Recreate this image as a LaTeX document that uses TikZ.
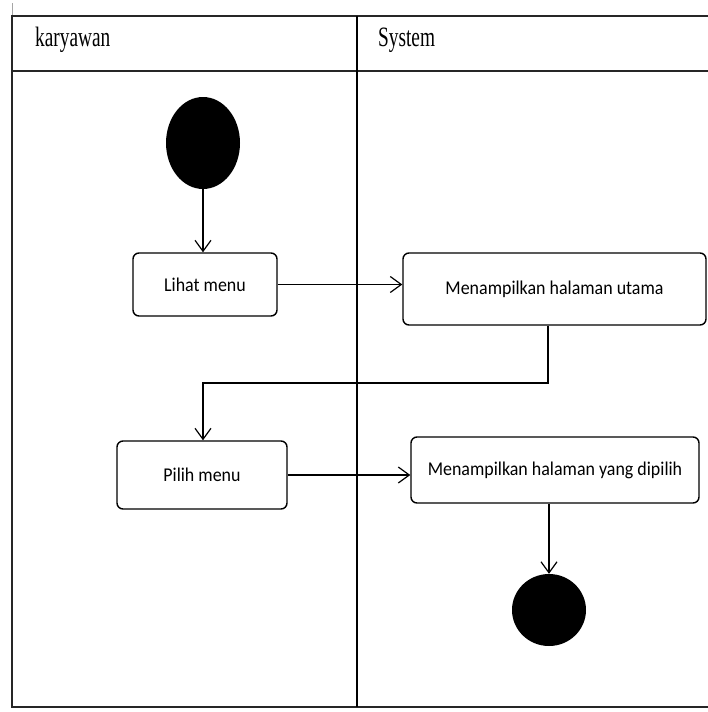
\documentclass[tikz,border=0pt]{standalone}
\usepackage{fontspec}
\usetikzlibrary{arrows.meta,shapes.geometric}
\newfontfamily\lanefont{Liberation Serif}[FakeStretch=0.69]
\newfontfamily\actfont{Carlito}[FakeStretch=0.92]
\begin{document}
\begin{tikzpicture}[x=1pt,y=-1pt,
  lane/.style={line width=1.8pt,draw=black!85},
  lanetitle/.style={anchor=base west,inner sep=0pt,font=\lanefont\fontsize{28}{30}\selectfont},
  action/.style={draw,line width=1.4pt,rounded corners=6pt,inner sep=0pt,
    font=\actfont\fontsize{19.5}{22}\selectfont},
  dot/.style={ellipse,fill=black,draw=none,inner sep=0pt},
  flow/.style={line width=1.2pt,-{Straight Barb[length=11pt,width=16pt,line width=1.2pt]}}]
\useasboundingbox (0,0) rectangle (708,712);

% swimlane frame
\draw[black!35,line width=1pt] (12,3) -- (12,16);
\draw[lane] (708,16) -- (12,16) -- (12,707) -- (708,707);
\draw[lane] (12,71) -- (708,71);
\draw[line width=1.5pt] (357,16) -- (357,707);
\node[lanetitle] (laneA) at (35,46) {karyawan};
\node[lanetitle] (laneB) at (378,46) {System};

% activities
\node[dot,minimum width=74pt,minimum height=92pt] (start) at (203,143) {};
\node[action,minimum width=144pt,minimum height=63pt] (lihat) at (205,284.5) {Lihat menu};
\node[action,minimum width=303pt,minimum height=72pt] (utama) at (554.5,289) {Menampilkan halaman utama};
\node[action,minimum width=170pt,minimum height=68pt] (pilih) at (202,475) {Pilih menu};
\node[action,minimum width=288pt,minimum height=66pt] (dipilih) at (555,470) {Menampilkan halaman yang dipilih};
\node[dot,minimum width=74pt,minimum height=72pt] (end) at (549,610) {};

% bend points of the return path
\coordinate (turnR) at (548,383);
\coordinate (turnL) at (203,383);

% control flow
\draw[flow] (start.south -| turnL) -- (turnL |- lihat.north);
\draw[flow] (lihat.east) -- (lihat.east -| utama.west);
\draw[flow] (turnR |- utama.south) -- (turnR) -- (turnL) -- (turnL |- pilih.north);
\draw[flow] (pilih.east) -- (pilih.east -| dipilih.west);
\draw[flow] (end.north |- dipilih.south) -- (end.north);
\end{tikzpicture}
\end{document}
